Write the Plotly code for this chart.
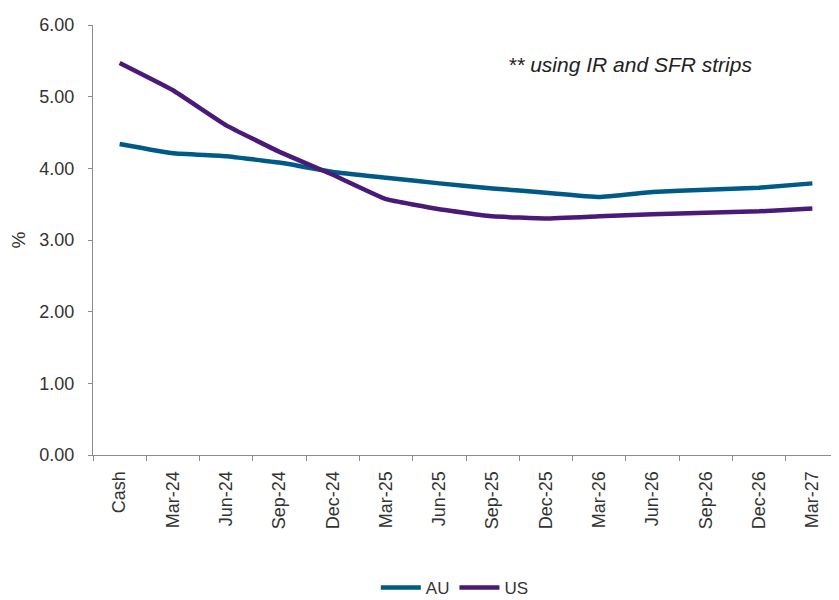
import plotly.graph_objects as go

categories = ["Cash", "Mar-24", "Jun-24", "Sep-24", "Dec-24", "Mar-25", "Jun-25",
              "Sep-25", "Dec-25", "Mar-26", "Jun-26", "Sep-26", "Dec-26", "Mar-27"]
au_values = [4.34, 4.21, 4.17, 4.08, 3.95, 3.87, 3.79, 3.72, 3.66, 3.60, 3.67, 3.70, 3.73, 3.79]
us_values = [5.47, 5.09, 4.60, 4.23, 3.91, 3.57, 3.43, 3.33, 3.30, 3.33, 3.36, 3.38, 3.40, 3.44]
y_ticks = [0, 1, 2, 3, 4, 5, 6]
y_tick_labels = ["0.00", "1.00", "2.00", "3.00", "4.00", "5.00", "6.00"]

AU_COLOR = "#005a87"
US_COLOR = "#4a1a78"

fig = go.Figure()
fig.add_trace(go.Scatter(x=categories, y=au_values, name="AU", mode="lines",
                         line=dict(color=AU_COLOR, width=4.5, shape="spline", smoothing=0.3)))
fig.add_trace(go.Scatter(x=categories, y=us_values, name="US", mode="lines",
                         line=dict(color=US_COLOR, width=4.5, shape="spline", smoothing=0.3)))

# page body has an 8px default margin, so the figure is sized/positioned to compensate
fig.update_layout(
    width=831, height=592,
    margin=dict(l=85, r=0, t=17, b=145, autoexpand=False),
    paper_bgcolor="white", plot_bgcolor="white",
    font=dict(family="Liberation Sans, Arial, sans-serif", size=18, color="#333333"),
    showlegend=True,
    legend=dict(orientation="h", x=0.485, xanchor="center", y=-0.309, yanchor="middle",
                font=dict(size=17, color="#333333"), itemwidth=40, tracegroupgap=0,
                borderwidth=0),
    xaxis=dict(type="category", range=[-0.5, len(categories) - 0.5], tickangle=-90,
               showline=True, linecolor="#8c8c8c",
               linewidth=1, ticks="outside", tickson="boundaries", ticklen=5,
               tickcolor="#8c8c8c", showgrid=False, zeroline=False, automargin=False,
               ticklabelstandoff=8,
               tickfont=dict(size=18, color="#333333")),
    yaxis=dict(range=[0, 6], tickvals=y_ticks, ticktext=y_tick_labels, showline=True,
               linecolor="#8c8c8c", linewidth=1, ticks="outside", ticklen=4,
               tickcolor="#8c8c8c", showgrid=False, zeroline=False, automargin=False,
               ticklabelstandoff=10,
               tickfont=dict(size=18, color="#333333"),
               title=dict(text="%", font=dict(size=19, color="#333333"), standoff=10)),
)

fig.add_annotation(text="<i>** using IR and SFR strips</i>", xref="paper", yref="paper",
                   x=(629.5 - 93) / 746, y=(455 - 64) / 430, showarrow=False,
                   font=dict(size=21, color="#222222"), xanchor="center", yanchor="middle")

fig.write_html("out.html")
